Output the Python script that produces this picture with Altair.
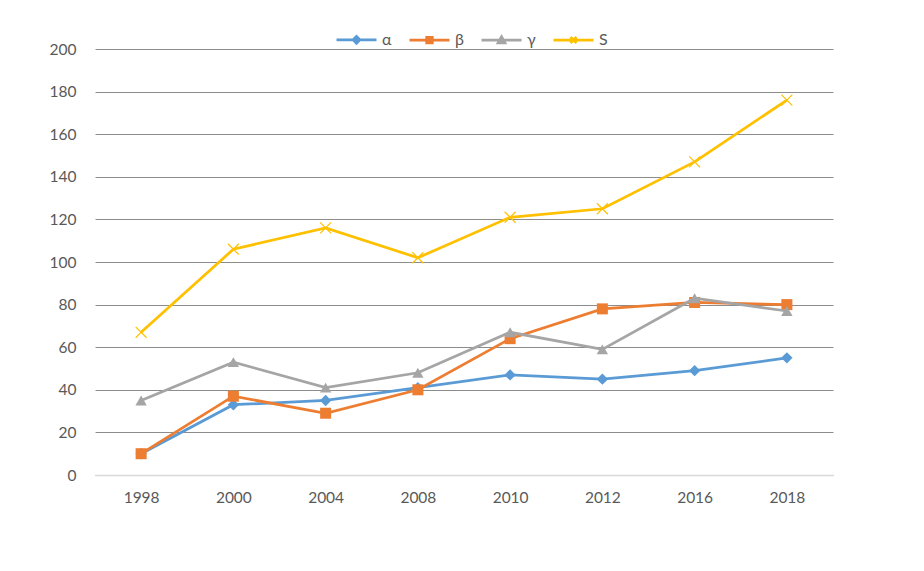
import altair as alt
import pandas as pd

years = ["1998", "2000", "2004", "2008", "2010", "2012", "2016", "2018"]
series_names = ["α", "β", "γ", "S"]
alpha = [10, 33, 35, 41, 47, 45, 49, 55]
beta = [10, 37, 29, 40, 64, 78, 81, 80]
gamma = [35, 53, 41, 48, 67, 59, 83, 77]
s_vals = [67, 106, 116, 102, 121, 125, 147, 176]
colors = ["#5B9BD5", "#ED7D31", "#A5A5A5", "#FFC000"]

rows = []
for name, vals in zip(series_names, [alpha, beta, gamma, s_vals]):
    for y, v in zip(years, vals):
        rows.append({"year": y, "series": name, "value": v})
df = pd.DataFrame(rows)

font = "Lato"
text_color = "#595959"

x_path = "M-1,-1L1,1M-1,1L1,-1"
marker_shapes = ["diamond", "square", "triangle-up", x_path]
marker_sizes = [130, 121, 130, 120]
legend_paths = [
    "M-1,0L1,0M0,-0.17L0.17,0L0,0.17L-0.17,0Z",
    "M-1,0L1,0M-0.14,-0.14L0.14,-0.14L0.14,0.14L-0.14,0.14Z",
    "M-1,0L1,0M0,-0.17L0.17,0.13L-0.17,0.13Z",
    "M-1,0L1,0M-0.15,-0.15L0.15,0.15M-0.15,0.15L0.15,-0.15",
]

x_enc = alt.X(
    "year:N",
    sort=years,
    scale=alt.Scale(type="point", padding=0.5),
    axis=alt.Axis(
        title=None, labelAngle=0, ticks=False, grid=False,
        domainColor="#D9D9D9", domainWidth=1.5,
        labelFont=font, labelFontSize=15.5, labelColor=text_color, labelPadding=15,
    ),
)
y_enc = alt.Y(
    "value:Q",
    scale=alt.Scale(domain=[0, 200], nice=False),
    axis=alt.Axis(
        title=None, values=list(range(0, 201, 20)), ticks=False, domain=False,
        gridColor="#8C8C8C", gridWidth=1,
        labelFont=font, labelFontSize=15.5, labelColor=text_color, labelPadding=19,
    ),
)

layers = []
for name, col, shp, sz in zip(series_names, colors, marker_shapes, marker_sizes):
    sub = df[df["series"] == name]
    layers.append(
        alt.Chart(sub).mark_line(color=col, strokeWidth=2.75).encode(x=x_enc, y=y_enc)
    )
    if shp == x_path:
        pt = alt.Chart(sub).mark_point(shape=shp, filled=False, color=col,
                                       size=sz, strokeWidth=1.2, opacity=1)
    else:
        pt = alt.Chart(sub).mark_point(shape=shp, filled=True, color=col,
                                       size=sz, strokeWidth=0, opacity=1)
    layers.append(pt.encode(x=x_enc, y=y_enc))

leg = alt.Legend(
    title=None, orient="none", direction="horizontal",
    legendX=240, legendY=-31,
    symbolSize=1600, symbolStrokeWidth=2.75, symbolOpacity=1,
    labelOffset=4, columnPadding=12,
    labelFont=font, labelFontSize=16, labelColor=text_color,
)
legend_layer = alt.Chart(df).mark_point(opacity=0, filled=True).encode(
    x=x_enc,
    y=y_enc,
    fill=alt.Fill("series:N", scale=alt.Scale(domain=series_names, range=colors), legend=leg),
    stroke=alt.Stroke("series:N", scale=alt.Scale(domain=series_names, range=colors), legend=leg),
    shape=alt.Shape("series:N", scale=alt.Scale(domain=series_names, range=legend_paths), legend=leg),
)
layers.append(legend_layer)

chart = (
    alt.layer(*layers)
    .properties(
        width=738, height=426,
        background="white",
        autosize=alt.AutoSizeParams(type="none"),
        padding={"left": 87, "top": 41, "right": 83, "bottom": 88},
    )
    .configure_view(strokeWidth=0, stroke="transparent")
)

chart.save("out.html", embed_options={"renderer": "svg", "actions": False})
